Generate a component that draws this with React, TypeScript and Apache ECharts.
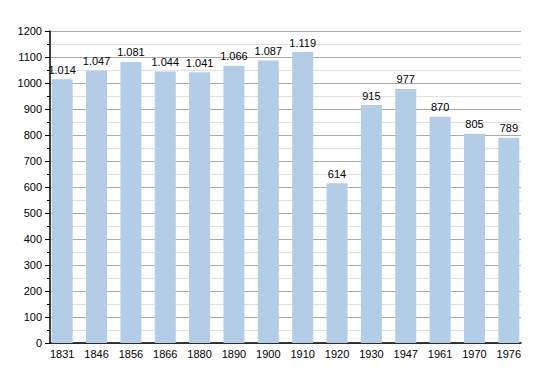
import React, { useEffect, useRef } from "react";
import * as echarts from "echarts";

const years = ["1831", "1846", "1856", "1866", "1880", "1890", "1900", "1910", "1920", "1930", "1947", "1961", "1970", "1976"];
const population = [1014, 1047, 1081, 1044, 1041, 1066, 1087, 1119, 614, 915, 977, 870, 805, 789];

const fmt = (v: number) => {
  const s = String(v);
  return v >= 1000 ? s.slice(0, s.length - 3) + "." + s.slice(s.length - 3) : s;
};

export default function App() {
  const ref = useRef<HTMLDivElement>(null);
  useEffect(() => {
    const chart = echarts.init(ref.current!, null, { renderer: "svg" });
    chart.setOption({
      animation: false,
      textStyle: { fontFamily: "Liberation Sans, Arial, sans-serif" },
      grid: [
        { left: 50, right: 29, top: 31, bottom: 30 },
        { left: 45, right: 24, top: 31, bottom: 30 },
      ],
      xAxis: [
        {
          type: "category",
          gridIndex: 0,
          data: years,
          axisLine: { lineStyle: { color: "#000", width: 1.5 } },
          axisTick: { show: false },
          axisLabel: { show: false },
        },
        {
          type: "category",
          gridIndex: 1,
          data: years,
          axisLine: { show: false },
          axisTick: { show: false },
          axisLabel: { color: "#000", fontSize: 11, margin: 5 },
        },
      ],
      yAxis: [
        {
          type: "value",
          gridIndex: 0,
          min: 0,
          max: 1200,
          interval: 100,
          axisLine: { show: true, lineStyle: { color: "#000", width: 1.5 } },
          axisTick: { show: true, length: 5, lineStyle: { color: "#000" } },
          minorTick: { show: true, splitNumber: 2, length: 3, lineStyle: { color: "#000" } },
          splitLine: { show: true, lineStyle: { color: "#aaaaaa", width: 1 } },
          minorSplitLine: { show: true, lineStyle: { color: "#e0e0e0", width: 1 } },
          axisLabel: { color: "#000", fontSize: 11, margin: 8, formatter: (v: number) => String(v) },
        },
        {
          type: "value",
          gridIndex: 1,
          min: 0,
          max: 1200,
          interval: 100,
          show: false,
          splitLine: { show: false },
        },
      ],
      series: [
        {
          type: "bar",
          xAxisIndex: 1,
          yAxisIndex: 1,
          data: population,
          barWidth: 21,
          itemStyle: { color: "#b3cde6" },
          label: {
            show: true,
            position: "top",
            color: "#000",
            fontSize: 11,
            distance: 4,
            formatter: (p: any) => fmt(p.value),
          },
        },
      ],
    });
    return () => chart.dispose();
  }, []);
  return <div ref={ref} style={{ position: "fixed", left: 0, top: 0, width: 550, height: 373, background: "#fff" }} />;
}
